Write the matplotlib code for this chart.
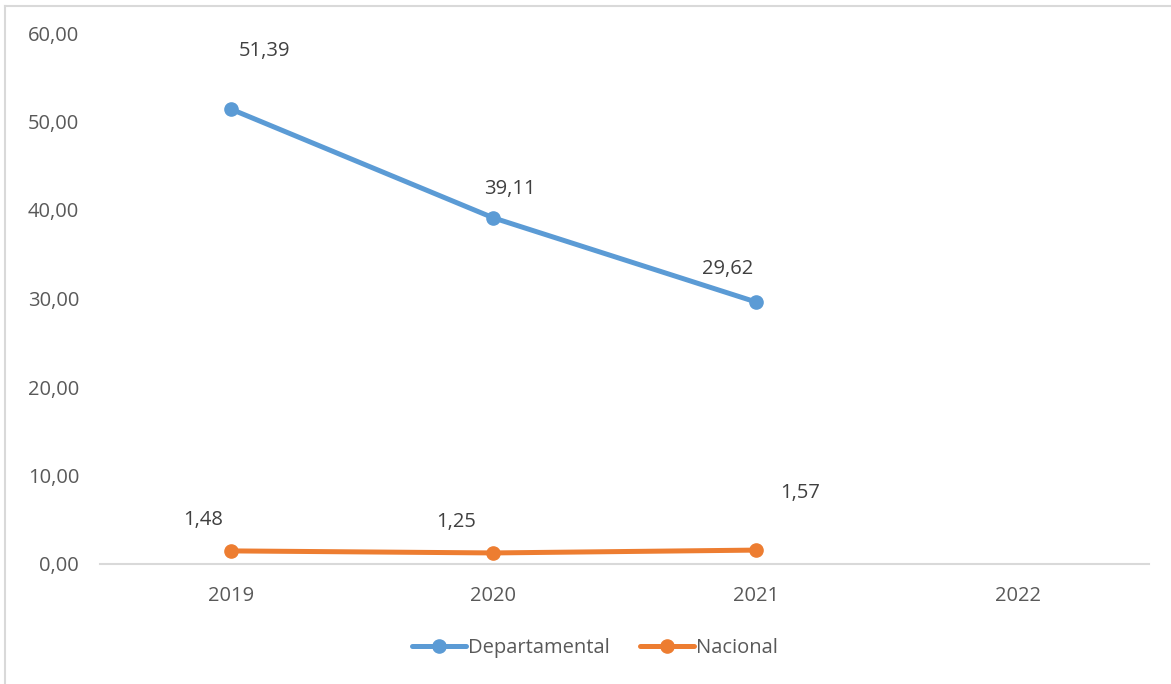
import matplotlib
matplotlib.use("Agg")
import matplotlib.pyplot as plt
from matplotlib.lines import Line2D

years = ["2019", "2020", "2021", "2022"]
departamental = [51.39, 39.11, 29.62]
nacional = [1.48, 1.25, 1.57]
yticks = [0, 10, 20, 30, 40, 50, 60]

# label offsets (points) relative to each marker
dep_offsets = [(24, 42), (12, 21), (-20, 24)]
nac_offsets = [(-20, 22), (-27, 22), (32, 41)]

BLUE = "#5B9BD5"
ORANGE = "#ED7D31"
TXT = "#595959"
GRID = "#D9D9D9"
FS = 14.5

plt.rcParams['font.family'] = ['Open Sans', 'DejaVu Sans']

fig = plt.figure(figsize=(11.71, 6.84), dpi=100)
ax = fig.add_axes([100 / 1171, 1 - 564 / 684, 1049 / 1171, 531 / 684])

x_dep = list(range(len(departamental)))
x_nac = list(range(len(nacional)))
ax.plot(x_dep, departamental, color=BLUE, lw=3.6, marker="o", ms=9.5,
        solid_capstyle="round", label="Departamental")
ax.plot(x_nac, nacional, color=ORANGE, lw=3.6, marker="o", ms=9.5,
        solid_capstyle="round", label="Nacional")

def fmt(v):
    return ("%.2f" % v).replace(".", ",")

for xs, ys, offs in [(x_dep, departamental, dep_offsets), (x_nac, nacional, nac_offsets)]:
    for xi, yi, off in zip(xs, ys, offs):
        ax.annotate(fmt(yi), (xi, yi), xytext=off, textcoords="offset points",
                    ha="center", va="center", fontsize=FS, color="#404040")

ax.set_xlim(-0.5, len(years) - 0.5)
ax.set_ylim(0, 60)
ax.set_xticks(range(len(years)))
ax.set_xticklabels(years)
ax.set_yticks(yticks)
ax.set_yticklabels([fmt(t) for t in yticks])
ax.tick_params(length=0, labelsize=FS, colors=TXT)
ax.tick_params(axis="y", pad=15)
ax.tick_params(axis="x", pad=16)

for side in ["left", "right", "top"]:
    ax.spines[side].set_visible(False)
ax.spines["bottom"].set_color(GRID)
ax.spines["bottom"].set_linewidth(1.5)

leg = ax.legend(loc="center", bbox_to_anchor=((595 - 100) / 1049, (564 - 648) / 531),
                bbox_transform=ax.transAxes, ncol=2, frameon=False, fontsize=FS,
                handlelength=2.7, handletextpad=0.1, columnspacing=1.5)
for t in leg.get_texts():
    t.set_color(TXT)

# chart border (only left and top edges visible in the crop)
fig.add_artist(Line2D([5.5 / 1171, 5.5 / 1171], [0, 1 - 5.5 / 684], color=GRID, lw=1.5,
                      transform=fig.transFigure))
fig.add_artist(Line2D([5.5 / 1171, 1], [1 - 5.5 / 684, 1 - 5.5 / 684], color=GRID, lw=1.5,
                      transform=fig.transFigure))

fig.savefig("out.png", dpi=100)
